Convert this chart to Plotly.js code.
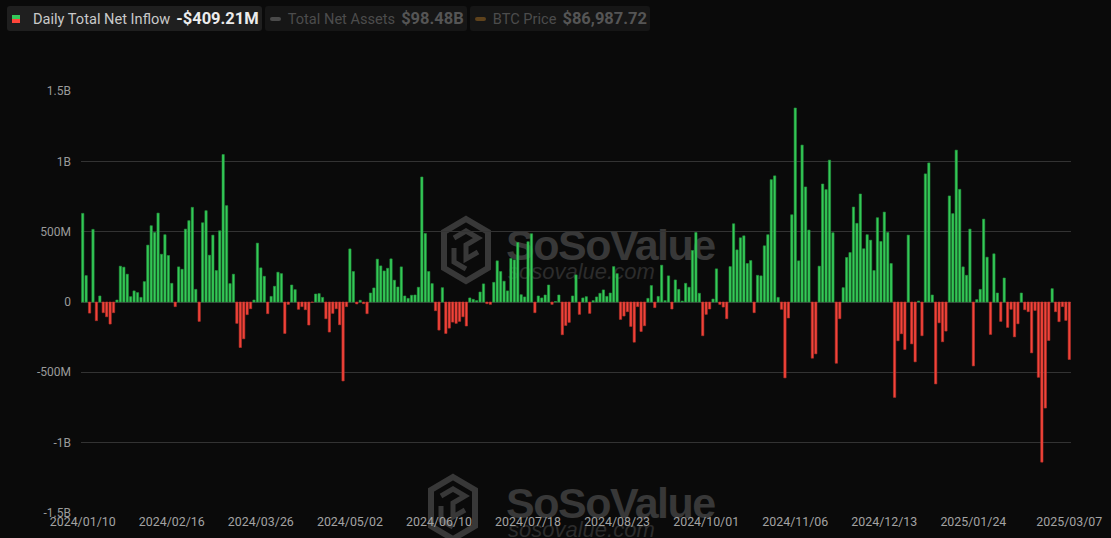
<!DOCTYPE html>
<html>
<head>
<meta charset="utf-8">
<script src="https://cdn.plot.ly/plotly-3.0.1.min.js"></script>
<style>
  html, body { margin:0; padding:0; background:#0a0a0a; }
  #wrap { position:relative; width:1111px; height:538px; overflow:hidden; background:#0a0a0a; font-family: Roboto, "Noto Sans", sans-serif; }
  #chart { position:absolute; left:0; top:0; width:1111px; height:538px; z-index:1; }
  .wm { position:absolute; z-index:0; }
  .wm .big { position:absolute; font-family: "Liberation Sans", Arial, sans-serif; font-weight:bold; font-size:43px; letter-spacing:-1.5px; color:#383838; white-space:nowrap; line-height:1; }
  .wm .small { position:absolute; font-family: "Liberation Sans", Arial, sans-serif; font-style:italic; font-size:22px; color:#2c2c2c; white-space:nowrap; line-height:1; }
  #legend { position:absolute; left:7px; top:6px; z-index:2; display:flex; gap:3px; }
  .lg { height:25px; border-radius:3px; display:flex; align-items:center; padding:0 3px 0 5px; white-space:nowrap; }
  .lab { font-size:14.6px; margin-left:7px; }
  .val { font-size:16.5px; font-weight:bold; margin-left:6px; }
  .ic1 { width:8px; height:8px; background:linear-gradient(#34c759 50%, #ff453a 50%); display:inline-block; }
  .dash { width:11px; height:4px; border-radius:2px; display:inline-block; }
</style>
</head>
<body>
<div id="wrap">
  <div class="wm" style="left:440px; top:214px;">
    <svg width="52" height="72" style="position:absolute;left:0;top:0">
      <polygon points="26,5 48,18 48,54 26,67 4,54 4,18" fill="none" stroke="#383838" stroke-width="6"/>
      <polyline points="14,24 26,17 38,24 26,31 26,45 38,38" fill="none" stroke="#383838" stroke-width="5"/>
      <polyline points="14,34 14,48 26,55" fill="none" stroke="#383838" stroke-width="5"/>
    </svg>
    <div class="big" style="left:66px; top:10px;">SoSoValue</div>
    <div class="small" style="left:68px; top:47px;">sosovalue.com</div>
  </div>
  <div class="wm" style="left:427px; top:472px;">
    <svg width="52" height="72" style="position:absolute;left:0;top:0">
      <polygon points="26,5 48,18 48,54 26,67 4,54 4,18" fill="none" stroke="#383838" stroke-width="6"/>
      <polyline points="14,24 26,17 38,24 26,31 26,45 38,38" fill="none" stroke="#383838" stroke-width="5"/>
      <polyline points="14,34 14,48 26,55" fill="none" stroke="#383838" stroke-width="5"/>
    </svg>
    <div class="big" style="left:79px; top:10px;">SoSoValue</div>
    <div class="small" style="left:81px; top:47px;">sosovalue.com</div>
  </div>
  <div id="chart"></div>
  <div id="legend">
    <div class="lg" style="background:#1f1f1f;"><span class="ic1"></span><span class="lab" style="color:#c9c9c9;margin-left:13px">Daily Total Net Inflow</span><span class="val" style="color:#ececec">-$409.21M</span></div>
    <div class="lg" style="background:#161616;"><span class="dash" style="background:#4a4a4a"></span><span class="lab" style="color:#4c4c4c">Total Net Assets</span><span class="val" style="color:#555">$98.48B</span></div>
    <div class="lg" style="background:#161616;"><span class="dash" style="background:#5e421c"></span><span class="lab" style="color:#4c4c4c">BTC Price</span><span class="val" style="color:#555">$86,987.72</span></div>
  </div>
</div>
<script>
// Daily total net inflow, in millions of USD
const inflowM = [
  631, 188, -79, 517, -133, 43, -76, -105, -157, -76, 14, 255, 248, 198, 38, 79, 67, 33, 145, 405, 543, 495, 633, 340, 479, 331, 133, -33,
  250, 233, 519, 579, 674, 90, -138, 564, 650, 333, 476, 224, 507, 1050, 686, 131, 198, -152, -324, -262, -90, -48, 14, 419, 243, 183, -83, 40, 112,
  212, 202, -224, -17, 121, 88, -52, -33, -55, -164, -2, 57, 60, 33, -119, -214, -81, -48, -162, -562, -33, 378, 217, -14, 12, -12, -83, 64, 100, 305,
  257, 221, 240, 307, 155, 107, 250, 43, 26, 48, 50, 105, 890, 488, 217, 131, -62, -200, 102, -224, -186, -143, -152, -138, -105, -171, 29, 19, 10,
  71, 129, -12, -17, 140, 293, 217, 148, 79, 310, 300, 424, 52, 36, 429, 486, -76, 43, 29, 50, 121, -17, 4, 50, -233, -167, -145, 43, 193,
  -88, 29, 38, -81, 10, 36, 62, 86, 40, 64, 252, 202, -124, -100, -69, -174, -286, -33, -210, -169, 26, 117, -40, 40, 262, 10, 186, -50, 157,
  90, 7, 133, 105, 367, 495, 62, -240, -88, -50, 21, 236, -17, -36, -119, 252, 557, 371, 457, 471, 274, 295, -76, 190, 186, 400, 479, 871, 898,
  33, -52, -540, -114, 621, 1381, 293, 1117, 819, 512, -400, -369, 255, 840, 800, 1010, 493, -436, -119, 102, 317, 352, 676, 560, 769, 379, 479, 440, 224, 600,
  431, 640, 495, 274, -679, -276, -226, -338, 476, -298, -426, 7, -240, 912, 990, 50, -583, -148, -283, -207, 755, 629, 1081, 802, 250, 190, 519, -455, 17,
  90, 590, 319, -231, 343, 64, -138, 171, -181, -52, -248, -155, 64, -55, -69, -362, -60, -536, -1140, -755, -274, 95, -69, -140, -33, -131, -409.21
];

// X-axis tick labels and the trading-day index each one sits on
const xTickLabels = ['2024/01/10','2024/02/16','2024/03/26','2024/05/02','2024/06/10','2024/07/18','2024/08/23','2024/10/01','2024/11/06','2024/12/13','2025/01/24','2025/03/07'];
const xTickIndex  = [0, 26, 52, 78, 104, 130, 156, 182, 208, 234, 260, 288];

// Y-axis ticks (millions) and labels
const yTickValues = [-1500, -1000, -500, 0, 500, 1000, 1500];
const yTickLabels = ['-1.5B', '-1B', '-500M', '0', '500M', '1B', '1.5B'];

const GREEN = '#35cb58', GREEN_EDGE = '#24963e';
const RED = '#f4443a', RED_EDGE = '#b8302a';

const xIdx = inflowM.map((_, i) => i);
const fill = inflowM.map(v => v >= 0 ? GREEN : RED);
const edge = inflowM.map(v => v >= 0 ? GREEN_EDGE : RED_EDGE);

const trace = {
  type: 'bar',
  x: xIdx,
  y: inflowM,
  marker: { color: fill, line: { color: edge, width: 0.6 } },
  hoverinfo: 'y',
  showlegend: false
};

const layout = {
  width: 1111, height: 538,
  margin: { l: 81, r: 40, t: 91, b: 25, pad: 0 },
  paper_bgcolor: 'rgba(0,0,0,0)',
  plot_bgcolor: 'rgba(0,0,0,0)',
  bargap: 0.33,
  showlegend: false,
  font: { family: 'Roboto, "Noto Sans", sans-serif', color: '#9a9a9a', size: 11 },
  xaxis: {
    type: 'linear',
    range: [-0.5, inflowM.length - 0.5],
    tickmode: 'array',
    tickvals: xTickIndex,
    ticktext: xTickLabels,
    showgrid: false, zeroline: false, showline: false,
    ticks: '',
    tickfont: { family: 'Roboto, sans-serif', size: 12.4, color: '#a3a3a3' },
    fixedrange: true
  },
  yaxis: {
    range: [-1502, 1502],
    tickmode: 'array',
    tickvals: yTickValues,
    ticktext: yTickLabels,
    showgrid: true, gridcolor: '#333333', gridwidth: 1,
    zeroline: true, zerolinecolor: '#3a3a3a', zerolinewidth: 1,
    showline: false, ticks: '',
    ticklabelstandoff: 9,
    tickfont: { family: 'Roboto, sans-serif', size: 12, color: '#9a9a9a' },
    fixedrange: true
  }
};

Plotly.newPlot('chart', [trace], layout, { displayModeBar: false, staticPlot: true });
</script>
</body>
</html>
